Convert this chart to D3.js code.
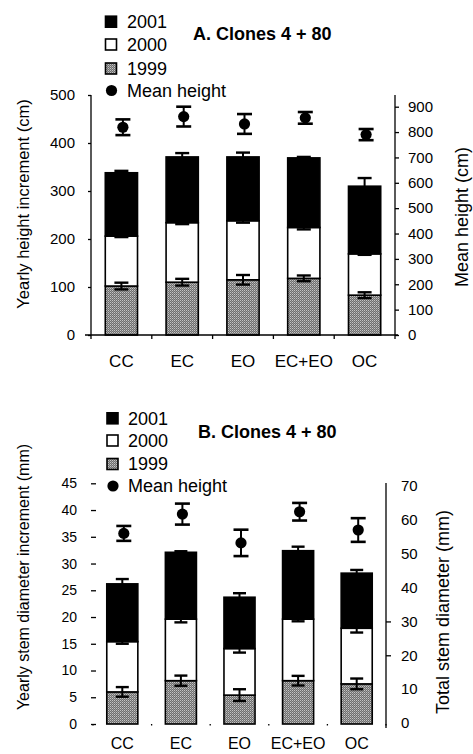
<!DOCTYPE html>
<html>
<head>
<meta charset="utf-8">
<script src="https://cdn.jsdelivr.net/npm/d3@7"></script>
<style>
  html, body { margin: 0; padding: 0; background: #fff; }
  svg { display: block; font-family: "Liberation Sans", Arial, Helvetica, sans-serif; }
</style>
</head>
<body>
<svg id="chart" width="473" height="754"></svg>
<script>
// Treatments
const categories = ["CC", "EC", "EO", "EC+EO", "OC"];
const years = ["1999", "2000", "2001"];

// A. Yearly height increment (cm), one value per treatment, and its error
const height1999 = [102, 110, 115, 118, 83];
const height1999Err = [7, 7, 10, 6, 6];
const height2000 = [104, 124, 123, 106, 86];
const height2000Err = [2, 3, 4, 4, 2];
const height2001 = [132, 137, 133, 145, 141];
const height2001Err = [4, 8, 9, 2, 17];
// A. Mean height (cm)
const meanHeight = [819, 861, 832, 856, 790];
const meanHeightErr = [31, 39, 39, 23, 22];

// B. Yearly stem diameter increment (mm)
const diam1999 = [6.0, 8.1, 5.4, 8.1, 7.5];
const diam1999Err = [0.9, 0.95, 1.1, 0.9, 1.0];
const diam2000 = [9.4, 11.5, 8.7, 11.5, 10.4];
const diam2000Err = [0.4, 0.6, 0.75, 0.4, 0.8];
const diam2001 = [10.8, 12.5, 9.6, 12.8, 10.3];
const diam2001Err = [0.9, 0.2, 0.75, 0.75, 0.6];
// B. Total stem diameter (mm)
const totalDiam = [56.0, 61.7, 53.2, 62.4, 57.0];
const totalDiamErr = [2.2, 3.1, 3.9, 2.6, 3.5];

// Tick labels
const heightTicks = [0, 100, 200, 300, 400, 500];
const meanHeightTicks = [0, 100, 200, 300, 400, 500, 600, 700, 800, 900];
const diamTicks = [0, 5, 10, 15, 20, 25, 30, 35, 40, 45];
const totalDiamTicks = [0, 10, 20, 30, 40, 50, 60, 70];

const svg = d3.select("#chart");

// Halftone grey used for the 1999 segments
const defs = svg.append("defs");
const pat = defs.append("pattern")
  .attr("id", "grey").attr("patternUnits", "userSpaceOnUse")
  .attr("width", 2).attr("height", 2);
pat.append("rect").attr("width", 2).attr("height", 2).attr("fill", "#6e6e6e");
pat.append("rect").attr("x", 0).attr("y", 0).attr("width", 1).attr("height", 1).attr("fill", "#c4c4c4");
pat.append("rect").attr("x", 1).attr("y", 1).attr("width", 1).attr("height", 1).attr("fill", "#9a9a9a");

const fills = { "1999": "url(#grey)", "2000": "#fff", "2001": "#000" };

function panel(opt) {
  const g = svg.append("g");
  const x = d3.scaleBand().domain(categories).range(opt.xRange)
    .paddingInner(0.47).paddingOuter(0.235);
  const y = d3.scaleLinear().domain(opt.yDomain).range(opt.yRange);
  const y2 = d3.scaleLinear().domain(opt.y2Domain).range(opt.y2Range);

  const rows = categories.map((c, i) => ({
    cat: c,
    "1999": opt.s1999[i], "2000": opt.s2000[i], "2001": opt.s2001[i],
    e1999: opt.e1999[i], e2000: opt.e2000[i], e2001: opt.e2001[i],
    mean: opt.mean[i], meanErr: opt.meanErr[i]
  }));
  const stacked = d3.stack().keys(years)(rows);

  // stacked bars
  stacked.forEach(layer => {
    g.append("g").selectAll("rect").data(layer).join("rect")
      .attr("x", d => x(d.data.cat))
      .attr("width", x.bandwidth())
      .attr("y", d => y(d[1]))
      .attr("height", d => y(d[0]) - y(d[1]))
      .attr("fill", fills[layer.key])
      .attr("stroke", "#000").attr("stroke-width", 1.6);
  });

  // error bars on each segment top
  const errG = g.append("g").attr("stroke", "#000").attr("stroke-width", 2);
  stacked.forEach(layer => {
    layer.forEach(d => {
      const cx = x(d.data.cat) + x.bandwidth() / 2;
      const e = d.data["e" + layer.key];
      const top = y(d[1] + e), bot = y(d[1] - e);
      errG.append("line").attr("x1", cx).attr("x2", cx).attr("y1", top).attr("y2", bot);
      errG.append("line").attr("x1", cx - opt.cap / 2).attr("x2", cx + opt.cap / 2)
        .attr("y1", top).attr("y2", top).attr("stroke-width", 2.4);
      errG.append("line").attr("x1", cx - opt.cap / 2).attr("x2", cx + opt.cap / 2)
        .attr("y1", bot).attr("y2", bot).attr("stroke-width", 2.4);
    });
  });

  // means on the right-hand scale
  const mg = g.append("g");
  rows.forEach(r => {
    const cx = x(r.cat) + x.bandwidth() / 2 + 1.5;
    const top = y2(r.mean + r.meanErr), bot = y2(r.mean - r.meanErr);
    mg.append("line").attr("x1", cx).attr("x2", cx).attr("y1", top).attr("y2", bot)
      .attr("stroke", "#000").attr("stroke-width", 2);
    [top, bot].forEach(v => mg.append("line")
      .attr("x1", cx - 7.5).attr("x2", cx + 7.5).attr("y1", v).attr("y2", v)
      .attr("stroke", "#000").attr("stroke-width", 2.6));
    mg.append("circle").attr("cx", cx).attr("cy", y2(r.mean)).attr("r", 5.6).attr("fill", "#000");
  });

  // left axis
  const la = g.append("g").attr("transform", `translate(${opt.leftAxisX},0)`)
    .call(d3.axisLeft(y).tickValues(opt.yTicks).tickSize(opt.leftTick).tickSizeOuter(0).tickPadding(opt.leftPad));
  la.select(".domain").remove();
  la.selectAll("line").attr("stroke", "#000").attr("stroke-width", 1.3);
  la.selectAll("text").attr("font-size", opt.leftTickFont).attr("fill", "#000");
  if (opt.leftLine) {
    g.append("line").attr("x1", opt.leftAxisX).attr("x2", opt.leftAxisX)
      .attr("y1", opt.yRange[1]).attr("y2", opt.yRange[0])
      .attr("stroke", "#000").attr("stroke-width", 1.3);
  }

  // right axis
  const ra = g.append("g").attr("transform", `translate(${opt.rightAxisX},0)`)
    .call(d3.axisRight(y2).tickValues(opt.y2Ticks).tickSize(opt.rightTick).tickSizeOuter(0).tickPadding(opt.rightPad));
  ra.select(".domain").remove();
  ra.selectAll(".tick line").attr("stroke", "#000").attr("stroke-width", 1.3)
    .attr("x2", d => (opt.rightTickShown ? (opt.rightTickShown.includes(d) ? opt.rightTick : 0) : opt.rightTick));
  ra.selectAll("text").attr("font-size", 15).attr("fill", "#000");
  g.append("line").attr("x1", opt.rightAxisX).attr("x2", opt.rightAxisX)
    .attr("y1", opt.rightLine[0]).attr("y2", opt.rightLine[1])
    .attr("stroke", "#000").attr("stroke-width", 1.3);

  // category axis
  const base = y(0);
  const step = x.step();
  const bounds = categories.map(c => x(c) - step * x.paddingInner() / 2);
  bounds.push(x(categories[categories.length - 1]) + x.bandwidth() + step * x.paddingInner() / 2);
  if (opt.baseLine) {
    g.append("line").attr("x1", opt.baseLine[0]).attr("x2", opt.baseLine[1])
      .attr("y1", base).attr("y2", base).attr("stroke", "#000").attr("stroke-width", 1.5);
  }
  g.append("g").selectAll("line").data(bounds).join("line")
    .attr("x1", d => d).attr("x2", d => d)
    .attr("y1", base).attr("y2", base + opt.catTick)
    .attr("stroke", "#000").attr("stroke-width", 1.3);
  const ca = g.append("g").attr("transform", `translate(0,${base})`)
    .call(d3.axisBottom(x).tickSize(0).tickPadding(opt.catPad));
  ca.select(".domain").remove();
  ca.selectAll("text").attr("font-size", opt.catFont).attr("fill", "#000");

  // axis titles
  g.append("text").attr("transform", `translate(${opt.leftTitle[0]},${opt.leftTitle[1]}) rotate(-90)`)
    .attr("text-anchor", "middle").attr("dy", "0.35em").attr("font-size", opt.leftTitle[2])
    .text(opt.leftTitleText);
  g.append("text").attr("transform", `translate(${opt.rightTitle[0]},${opt.rightTitle[1]}) rotate(-90)`)
    .attr("text-anchor", "middle").attr("dy", "0.35em").attr("font-size", opt.rightTitle[2])
    .text(opt.rightTitleText);

  // legend
  const lg = g.append("g");
  const keys = ["2001", "2000", "1999"];
  keys.forEach((k, i) => {
    lg.append("rect").attr("x", opt.legend.x).attr("y", opt.legend.rows[i] - 5.5)
      .attr("width", 11).attr("height", 11).attr("fill", fills[k])
      .attr("stroke", "#000").attr("stroke-width", 1.6);
    lg.append("text").attr("x", opt.legend.tx).attr("y", opt.legend.rows[i])
      .attr("dy", "0.35em").attr("font-size", 18).text(k);
  });
  lg.append("circle").attr("cx", opt.legend.x + 6).attr("cy", opt.legend.rows[3]).attr("r", 5.6);
  lg.append("text").attr("x", opt.legend.tx).attr("y", opt.legend.rows[3])
    .attr("dy", "0.35em").attr("font-size", 18).text("Mean height");

  g.append("text").attr("x", opt.title[0]).attr("y", opt.title[1]).attr("dy", "0.35em")
    .attr("font-size", 18).attr("font-weight", "bold").text(opt.titleText);
}

panel({
  xRange: [91, 395],
  yDomain: [0, 500], yRange: [335, 95],
  y2Domain: [0, 900], y2Range: [335, 106.7],
  s1999: height1999, s2000: height2000, s2001: height2001,
  e1999: height1999Err, e2000: height2000Err, e2001: height2001Err,
  mean: meanHeight, meanErr: meanHeightErr,
  cap: 14,
  yTicks: heightTicks, y2Ticks: meanHeightTicks,
  leftAxisX: 91, leftTick: 3, leftPad: 13, leftTickFont: 15, leftLine: true,
  rightAxisX: 395, rightTick: 4, rightPad: 9, rightLine: [95, 335],
  baseLine: [85, 398], catTick: 4, catPad: 20, catFont: 17,
  leftTitle: [23, 204, 16.5], leftTitleText: "Yearly height increment (cm)",
  rightTitle: [462, 217, 18], rightTitleText: "Mean height (cm)",
  legend: { x: 105.5, tx: 127, rows: [21.7, 44.5, 68.5, 90.5] },
  title: [193, 33.5], titleText: "A. Clones 4 + 80"
});

panel({
  xRange: [93, 386],
  yDomain: [0, 45], yRange: [724, 483.3],
  y2Domain: [0, 70], y2Range: [723, 486],
  s1999: diam1999, s2000: diam2000, s2001: diam2001,
  e1999: diam1999Err, e2000: diam2000Err, e2001: diam2001Err,
  mean: totalDiam, meanErr: totalDiamErr,
  cap: 13,
  yTicks: diamTicks, y2Ticks: totalDiamTicks,
  leftAxisX: 96, leftTick: 5, leftPad: 14, leftTickFont: 14, leftLine: false,
  rightAxisX: 386, rightTick: 5, rightPad: 10, rightLine: [483, 728],
  rightTickShown: [20, 30],
  baseLine: null, catTick: 1.5, catPad: 14, catFont: 16,
  leftTitle: [23, 577, 16], leftTitleText: "Yearly stem diameter increment (mm)",
  rightTitle: [443, 612, 18], rightTitleText: "Total stem diameter (mm)",
  legend: { x: 107, tx: 128, rows: [418.3, 440.5, 464, 486] },
  title: [198, 431.7], titleText: "B. Clones 4 + 80"
});
</script>
</body>
</html>
